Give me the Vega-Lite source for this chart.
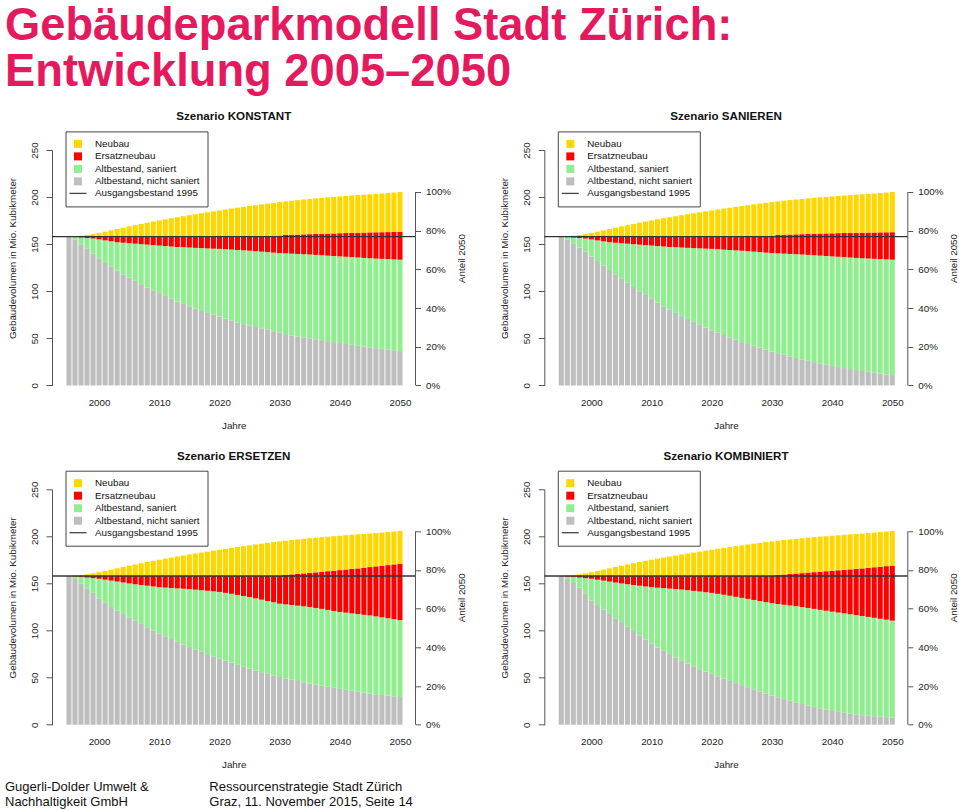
{
  "$schema": "https://vega.github.io/schema/vega-lite/v6.json",
  "padding": {"left": 5, "top": 3, "right": 0, "bottom": 0},
  "background": "white",
  "title": {
    "text": ["Gebäudeparkmodell Stadt Zürich:", "Entwicklung 2005–2050"],
    "anchor": "start", "frame": "group", "dx": -47,
    "font": "Liberation Sans", "fontSize": 45.3, "fontWeight": "bold",
    "color": "#E5195E", "lineHeight": 46.7, "offset": 15.5
  },
  "datasets": {
    "konstant": [
      {"j":1995,"a":158,"b":158,"c":158,"t":158},
      {"j":1996,"a":155,"b":157.5,"c":158,"t":158.3},
      {"j":1997,"a":150,"b":157,"c":158,"t":159},
      {"j":1998,"a":145,"b":156.5,"c":158,"t":159.8},
      {"j":1999,"a":140,"b":156,"c":158,"t":160.8},
      {"j":2000,"a":135,"b":155,"c":158,"t":162},
      {"j":2001,"a":130,"b":154,"c":158,"t":163.3},
      {"j":2002,"a":126,"b":153,"c":158,"t":164.7},
      {"j":2003,"a":122,"b":152,"c":158,"t":166.1},
      {"j":2004,"a":118,"b":151.5,"c":158,"t":167.5},
      {"j":2005,"a":114.5,"b":151,"c":158,"t":168.9},
      {"j":2006,"a":111,"b":150.5,"c":158,"t":170.2},
      {"j":2007,"a":107.5,"b":150,"c":158,"t":171.5},
      {"j":2008,"a":104,"b":149.5,"c":158,"t":172.8},
      {"j":2009,"a":101,"b":149,"c":158,"t":174},
      {"j":2010,"a":98,"b":148.5,"c":158,"t":175.2},
      {"j":2011,"a":95,"b":148,"c":158,"t":176.4},
      {"j":2012,"a":92,"b":147.5,"c":158,"t":177.5},
      {"j":2013,"a":89,"b":147,"c":158,"t":178.6},
      {"j":2014,"a":86.5,"b":146.7,"c":158,"t":179.7},
      {"j":2015,"a":84,"b":146.4,"c":158,"t":180.8},
      {"j":2016,"a":81.5,"b":146.1,"c":158,"t":181.8},
      {"j":2017,"a":79,"b":145.8,"c":158,"t":182.8},
      {"j":2018,"a":77,"b":145.5,"c":158,"t":183.8},
      {"j":2019,"a":75,"b":145.2,"c":158,"t":184.8},
      {"j":2020,"a":73,"b":145,"c":158,"t":185.8},
      {"j":2021,"a":71,"b":144.6,"c":158,"t":186.8},
      {"j":2022,"a":69,"b":144.2,"c":158,"t":187.8},
      {"j":2023,"a":67,"b":143.8,"c":158,"t":188.7},
      {"j":2024,"a":65,"b":143.4,"c":158,"t":189.6},
      {"j":2025,"a":63.5,"b":143,"c":158,"t":190.5},
      {"j":2026,"a":62,"b":142.5,"c":158,"t":191.4},
      {"j":2027,"a":60.5,"b":142,"c":158,"t":192.3},
      {"j":2028,"a":59,"b":141.5,"c":158,"t":193.1},
      {"j":2029,"a":57.5,"b":141,"c":158,"t":193.9},
      {"j":2030,"a":56,"b":140.5,"c":158,"t":194.7},
      {"j":2031,"a":54.5,"b":140.2,"c":160,"t":195.4},
      {"j":2032,"a":53,"b":139.9,"c":160.1,"t":196.1},
      {"j":2033,"a":52,"b":139.6,"c":160.2,"t":196.8},
      {"j":2034,"a":51,"b":139.3,"c":160.4,"t":197.4},
      {"j":2035,"a":50,"b":139,"c":160.6,"t":198},
      {"j":2036,"a":49,"b":138.6,"c":160.8,"t":198.6},
      {"j":2037,"a":48,"b":138.2,"c":161,"t":199.2},
      {"j":2038,"a":47,"b":137.8,"c":161.2,"t":199.7},
      {"j":2039,"a":46,"b":137.4,"c":161.4,"t":200.2},
      {"j":2040,"a":45,"b":137,"c":161.6,"t":200.7},
      {"j":2041,"a":44,"b":136.6,"c":161.8,"t":201.2},
      {"j":2042,"a":43,"b":136.2,"c":162,"t":201.7},
      {"j":2043,"a":42,"b":135.8,"c":162.2,"t":202.2},
      {"j":2044,"a":41,"b":135.4,"c":162.3,"t":202.6},
      {"j":2045,"a":40.3,"b":135,"c":162.5,"t":203},
      {"j":2046,"a":39.5,"b":134.7,"c":162.6,"t":203.4},
      {"j":2047,"a":38.8,"b":134.4,"c":162.7,"t":203.8},
      {"j":2048,"a":38,"b":134.1,"c":162.8,"t":204.3},
      {"j":2049,"a":37.3,"b":133.8,"c":162.9,"t":204.8},
      {"j":2050,"a":36.5,"b":133.5,"c":163,"t":205.4}
    ],
    "sanieren": [
      {"j":1995,"a":158,"b":158,"c":158,"t":158},
      {"j":1996,"a":155,"b":157.5,"c":158,"t":158.3},
      {"j":1997,"a":151,"b":157,"c":158,"t":159},
      {"j":1998,"a":146.5,"b":156.5,"c":158,"t":159.8},
      {"j":1999,"a":142,"b":156,"c":158,"t":160.8},
      {"j":2000,"a":137,"b":155,"c":158,"t":162},
      {"j":2001,"a":132,"b":154,"c":158,"t":163.3},
      {"j":2002,"a":127,"b":153,"c":158,"t":164.7},
      {"j":2003,"a":122.5,"b":152,"c":158,"t":166.1},
      {"j":2004,"a":118,"b":151.5,"c":158,"t":167.5},
      {"j":2005,"a":113.5,"b":151,"c":158,"t":168.9},
      {"j":2006,"a":109,"b":150.5,"c":158,"t":170.2},
      {"j":2007,"a":104.5,"b":150,"c":158,"t":171.5},
      {"j":2008,"a":100,"b":149.5,"c":158,"t":172.8},
      {"j":2009,"a":96,"b":149,"c":158,"t":174},
      {"j":2010,"a":92,"b":148.5,"c":158,"t":175.2},
      {"j":2011,"a":88,"b":148,"c":158,"t":176.4},
      {"j":2012,"a":84,"b":147.5,"c":158,"t":177.5},
      {"j":2013,"a":80.5,"b":147,"c":158,"t":178.6},
      {"j":2014,"a":77,"b":146.7,"c":158,"t":179.7},
      {"j":2015,"a":73.5,"b":146.4,"c":158,"t":180.8},
      {"j":2016,"a":70.5,"b":146.1,"c":158,"t":181.8},
      {"j":2017,"a":67.5,"b":145.8,"c":158,"t":182.8},
      {"j":2018,"a":64.5,"b":145.5,"c":158,"t":183.8},
      {"j":2019,"a":61.5,"b":145.2,"c":158,"t":184.8},
      {"j":2020,"a":58.5,"b":145,"c":158,"t":185.8},
      {"j":2021,"a":56,"b":144.6,"c":158,"t":186.8},
      {"j":2022,"a":53.5,"b":144.2,"c":158,"t":187.8},
      {"j":2023,"a":51,"b":143.8,"c":158,"t":188.7},
      {"j":2024,"a":48.5,"b":143.4,"c":158,"t":189.6},
      {"j":2025,"a":46,"b":143,"c":158,"t":190.5},
      {"j":2026,"a":44,"b":142.5,"c":158,"t":191.4},
      {"j":2027,"a":42,"b":142,"c":158,"t":192.3},
      {"j":2028,"a":40,"b":141.5,"c":158,"t":193.1},
      {"j":2029,"a":38,"b":141,"c":158,"t":193.9},
      {"j":2030,"a":36,"b":140.5,"c":158,"t":194.7},
      {"j":2031,"a":34.2,"b":140.2,"c":159.8,"t":195.4},
      {"j":2032,"a":32.5,"b":139.9,"c":160,"t":196.1},
      {"j":2033,"a":30.8,"b":139.6,"c":160.2,"t":196.8},
      {"j":2034,"a":29.2,"b":139.3,"c":160.4,"t":197.4},
      {"j":2035,"a":27.6,"b":139,"c":160.6,"t":198},
      {"j":2036,"a":26.1,"b":138.6,"c":160.8,"t":198.6},
      {"j":2037,"a":24.7,"b":138.2,"c":161,"t":199.2},
      {"j":2038,"a":23.3,"b":137.8,"c":161.2,"t":199.7},
      {"j":2039,"a":22,"b":137.4,"c":161.4,"t":200.2},
      {"j":2040,"a":20.7,"b":137,"c":161.5,"t":200.7},
      {"j":2041,"a":19.5,"b":136.6,"c":161.7,"t":201.2},
      {"j":2042,"a":18.4,"b":136.2,"c":161.9,"t":201.7},
      {"j":2043,"a":17.3,"b":135.8,"c":162,"t":202.2},
      {"j":2044,"a":16.3,"b":135.4,"c":162.1,"t":202.6},
      {"j":2045,"a":15.3,"b":135,"c":162.2,"t":203},
      {"j":2046,"a":14.4,"b":134.7,"c":162.3,"t":203.4},
      {"j":2047,"a":13.5,"b":134.4,"c":162.4,"t":203.8},
      {"j":2048,"a":12.6,"b":134.1,"c":162.5,"t":204.3},
      {"j":2049,"a":11.8,"b":133.8,"c":162.6,"t":204.8},
      {"j":2050,"a":11,"b":133.5,"c":162.7,"t":205.4}
    ],
    "ersetzen": [
      {"j":1995,"a":158,"b":158,"c":158,"t":158},
      {"j":1996,"a":155,"b":157.5,"c":158,"t":158.3},
      {"j":1997,"a":150,"b":157,"c":158,"t":159},
      {"j":1998,"a":145,"b":156.3,"c":158,"t":159.8},
      {"j":1999,"a":140,"b":155.6,"c":158,"t":160.8},
      {"j":2000,"a":134,"b":155,"c":158,"t":162},
      {"j":2001,"a":129.5,"b":154,"c":158,"t":163.3},
      {"j":2002,"a":125,"b":153,"c":158,"t":164.7},
      {"j":2003,"a":121,"b":152,"c":158,"t":166.1},
      {"j":2004,"a":117.5,"b":151,"c":158,"t":167.5},
      {"j":2005,"a":114,"b":150,"c":158,"t":168.9},
      {"j":2006,"a":110.5,"b":149.2,"c":158,"t":170.2},
      {"j":2007,"a":107,"b":148.4,"c":158,"t":171.5},
      {"j":2008,"a":103.5,"b":147.6,"c":158,"t":172.8},
      {"j":2009,"a":100,"b":146.8,"c":158,"t":174},
      {"j":2010,"a":97,"b":146,"c":158,"t":175.2},
      {"j":2011,"a":94,"b":145.6,"c":158,"t":176.4},
      {"j":2012,"a":91,"b":145.2,"c":158,"t":177.5},
      {"j":2013,"a":88,"b":144.8,"c":158,"t":178.6},
      {"j":2014,"a":85,"b":144.4,"c":158,"t":179.7},
      {"j":2015,"a":82.5,"b":144,"c":158,"t":180.8},
      {"j":2016,"a":80,"b":143.4,"c":158,"t":181.8},
      {"j":2017,"a":77.5,"b":142.8,"c":158,"t":182.8},
      {"j":2018,"a":75,"b":142.2,"c":158,"t":183.8},
      {"j":2019,"a":72.5,"b":141.6,"c":158,"t":184.8},
      {"j":2020,"a":70,"b":141,"c":158,"t":185.8},
      {"j":2021,"a":68,"b":140,"c":158,"t":186.8},
      {"j":2022,"a":66,"b":139,"c":158,"t":187.8},
      {"j":2023,"a":63.5,"b":137.8,"c":158,"t":188.7},
      {"j":2024,"a":61.5,"b":136.7,"c":158,"t":189.6},
      {"j":2025,"a":59.5,"b":135.6,"c":158,"t":190.5},
      {"j":2026,"a":57.5,"b":134.2,"c":158,"t":191.4},
      {"j":2027,"a":55.8,"b":132.8,"c":158,"t":192.3},
      {"j":2028,"a":54,"b":131.4,"c":158,"t":193.1},
      {"j":2029,"a":52.3,"b":130,"c":158,"t":193.9},
      {"j":2030,"a":50.6,"b":128.5,"c":158,"t":194.7},
      {"j":2031,"a":49.2,"b":127.8,"c":159,"t":195.4},
      {"j":2032,"a":47.8,"b":127.1,"c":159.6,"t":196.1},
      {"j":2033,"a":46.4,"b":126.4,"c":160.2,"t":196.8},
      {"j":2034,"a":45,"b":125.7,"c":160.7,"t":197.4},
      {"j":2035,"a":43.6,"b":125,"c":161.2,"t":198},
      {"j":2036,"a":42.5,"b":124,"c":161.8,"t":198.6},
      {"j":2037,"a":41.4,"b":123,"c":162.4,"t":199.2},
      {"j":2038,"a":40.2,"b":121.9,"c":163,"t":199.7},
      {"j":2039,"a":39.1,"b":120.8,"c":163.6,"t":200.2},
      {"j":2040,"a":38,"b":119.7,"c":164.2,"t":200.7},
      {"j":2041,"a":37,"b":119,"c":164.8,"t":201.2},
      {"j":2042,"a":36,"b":118.2,"c":165.4,"t":201.7},
      {"j":2043,"a":35,"b":117.5,"c":166,"t":202.2},
      {"j":2044,"a":34,"b":116.7,"c":166.7,"t":202.6},
      {"j":2045,"a":33,"b":116,"c":167.4,"t":203},
      {"j":2046,"a":32.3,"b":115,"c":168.1,"t":203.5},
      {"j":2047,"a":31.5,"b":114,"c":168.8,"t":204},
      {"j":2048,"a":30.8,"b":113,"c":169.5,"t":204.6},
      {"j":2049,"a":30.1,"b":112,"c":170.2,"t":205.2},
      {"j":2050,"a":29.4,"b":111,"c":171,"t":205.8}
    ],
    "kombiniert": [
      {"j":1995,"a":158,"b":158,"c":158,"t":158},
      {"j":1996,"a":155,"b":157.5,"c":158,"t":158.3},
      {"j":1997,"a":150.5,"b":157,"c":158,"t":159},
      {"j":1998,"a":145.5,"b":156.3,"c":158,"t":159.8},
      {"j":1999,"a":139,"b":155.6,"c":158,"t":160.8},
      {"j":2000,"a":132,"b":155,"c":158,"t":162},
      {"j":2001,"a":127,"b":154,"c":158,"t":163.3},
      {"j":2002,"a":122,"b":153,"c":158,"t":164.7},
      {"j":2003,"a":117.5,"b":152,"c":158,"t":166.1},
      {"j":2004,"a":113,"b":151,"c":158,"t":167.5},
      {"j":2005,"a":109,"b":150,"c":158,"t":168.9},
      {"j":2006,"a":104,"b":149.2,"c":158,"t":170.2},
      {"j":2007,"a":99.5,"b":148.4,"c":158,"t":171.5},
      {"j":2008,"a":95,"b":147.6,"c":158,"t":172.8},
      {"j":2009,"a":90.5,"b":146.8,"c":158,"t":174},
      {"j":2010,"a":86,"b":146,"c":158,"t":175.2},
      {"j":2011,"a":82,"b":145.5,"c":158,"t":176.4},
      {"j":2012,"a":78.5,"b":145,"c":158,"t":177.5},
      {"j":2013,"a":75,"b":144.5,"c":158,"t":178.6},
      {"j":2014,"a":71.5,"b":144,"c":158,"t":179.7},
      {"j":2015,"a":68,"b":143.5,"c":158,"t":180.8},
      {"j":2016,"a":65,"b":142.8,"c":158,"t":181.8},
      {"j":2017,"a":62,"b":142.1,"c":158,"t":182.8},
      {"j":2018,"a":59,"b":141.4,"c":158,"t":183.8},
      {"j":2019,"a":56.5,"b":140.7,"c":158,"t":184.8},
      {"j":2020,"a":54,"b":140,"c":158,"t":185.8},
      {"j":2021,"a":51.5,"b":139,"c":158,"t":186.8},
      {"j":2022,"a":49,"b":138,"c":158,"t":187.8},
      {"j":2023,"a":46.5,"b":136.9,"c":158,"t":188.7},
      {"j":2024,"a":44.2,"b":135.8,"c":158,"t":189.6},
      {"j":2025,"a":42,"b":134.7,"c":158,"t":190.5},
      {"j":2026,"a":39.8,"b":133.6,"c":158,"t":191.4},
      {"j":2027,"a":37.6,"b":132.5,"c":158,"t":192.3},
      {"j":2028,"a":35.4,"b":131.4,"c":158,"t":193.1},
      {"j":2029,"a":33.2,"b":130.2,"c":158,"t":193.9},
      {"j":2030,"a":31,"b":129,"c":158,"t":194.7},
      {"j":2031,"a":29.1,"b":128.2,"c":159,"t":195.4},
      {"j":2032,"a":27.2,"b":127.4,"c":159.5,"t":196.1},
      {"j":2033,"a":25.4,"b":126.6,"c":160,"t":196.8},
      {"j":2034,"a":23.7,"b":125.8,"c":160.5,"t":197.4},
      {"j":2035,"a":22,"b":125,"c":161,"t":198},
      {"j":2036,"a":20.4,"b":124,"c":161.5,"t":198.6},
      {"j":2037,"a":18.9,"b":123,"c":162,"t":199.2},
      {"j":2038,"a":17.4,"b":122,"c":162.5,"t":199.7},
      {"j":2039,"a":16,"b":121,"c":163,"t":200.2},
      {"j":2040,"a":14.6,"b":120,"c":163.5,"t":200.7},
      {"j":2041,"a":13.6,"b":119.1,"c":164,"t":201.2},
      {"j":2042,"a":12.7,"b":118.2,"c":164.5,"t":201.7},
      {"j":2043,"a":11.8,"b":117.3,"c":165,"t":202.2},
      {"j":2044,"a":10.9,"b":116.4,"c":165.5,"t":202.6},
      {"j":2045,"a":10.1,"b":115.5,"c":166,"t":203},
      {"j":2046,"a":9.5,"b":114.5,"c":166.6,"t":203.5},
      {"j":2047,"a":9,"b":113.5,"c":167.2,"t":204},
      {"j":2048,"a":8.5,"b":112.5,"c":167.8,"t":204.6},
      {"j":2049,"a":8,"b":111.5,"c":168.4,"t":205.2},
      {"j":2050,"a":7.5,"b":110.5,"c":169,"t":205.8}
    ]
  },
  "concat": [
    {
      "data": {"name": "konstant"},
      "title": "Szenario KONSTANT",
      "width": 363.5, "height": 235.4,
      "layer": [
        {"layer": [
          {"encoding": {"x": {"field": "j", "type": "quantitative", "title": "Jahre", "scale": {"domain": [1992.18, 2052.58], "nice": false, "zero": false, "padding": 0}, "axis": {"values": [2000,2010,2020,2030,2040,2050], "format": "d", "labelAngle": 0}}},
           "layer": [
            {"mark": {"type": "bar", "size": 5.1}, "encoding": {"y": {"field": "a", "type": "quantitative", "title": "Gebäudevolumen in Mio. Kubikmeter", "scale": {"domain": [0,250], "nice": false}, "axis": {"values": [0,50,100,150,200,250]}}, "color": {"datum": "Altbestand, nicht saniert", "scale": {"domain": ["Neubau","Ersatzneubau","Altbestand, saniert","Altbestand, nicht saniert","Ausgangsbestand 1995"], "range": ["#FFD700","#FF0000","#90EE90","#BEBEBE","#444444"]}, "legend": {"title": null, "encode": {"symbols": {"update": {"shape": {"signal": "datum.value === 'Ausgangsbestand 1995' ? 'stroke' : 'square'"}, "size": {"signal": "datum.value === 'Ausgangsbestand 1995' ? 289 : 64"}, "stroke": {"signal": "datum.value === 'Ausgangsbestand 1995' ? '#444444' : 'transparent'"}, "strokeWidth": {"value": 1.3}}}}}}}},
            {"mark": {"type": "bar", "size": 5.1}, "encoding": {"y": {"field": "b", "type": "quantitative", "title": "Gebäudevolumen in Mio. Kubikmeter", "scale": {"domain": [0,250], "nice": false}}, "y2": {"field": "a"}, "color": {"datum": "Altbestand, saniert"}}},
            {"mark": {"type": "bar", "size": 5.1}, "encoding": {"y": {"field": "c", "type": "quantitative", "title": "Gebäudevolumen in Mio. Kubikmeter", "scale": {"domain": [0,250], "nice": false}}, "y2": {"field": "b"}, "color": {"datum": "Ersatzneubau"}}},
            {"mark": {"type": "bar", "size": 5.1}, "encoding": {"y": {"field": "t", "type": "quantitative", "title": "Gebäudevolumen in Mio. Kubikmeter", "scale": {"domain": [0,250], "nice": false}}, "y2": {"field": "c"}, "color": {"datum": "Neubau"}}}
           ]},
          {"data": {"values": [{"w": 158}]}, "mark": {"type": "rule", "color": "#333333", "strokeWidth": 1.4}, "encoding": {"y": {"field": "w", "type": "quantitative", "title": "Gebäudevolumen in Mio. Kubikmeter", "scale": {"domain": [0,250], "nice": false}}}}
        ]},
        {"data": {"values": [{"von": 0, "bis": 100}]}, "mark": {"type": "rule", "color": "#555555"}, "encoding": {"x": {"value": "width"}, "y": {"field": "von", "type": "quantitative", "scale": {"domain": [0, 121.7], "nice": false}, "axis": {"orient": "right", "values": [0,20,40,60,80,100], "labelExpr": "datum.value + '%'", "title": "Anteil 2050", "domain": false}}, "y2": {"field": "bis"}}}
      ],
      "resolve": {"scale": {"y": "independent"}}
    },
    {
      "data": {"name": "sanieren"},
      "title": "Szenario SANIEREN",
      "width": 363.5, "height": 235.4,
      "layer": [
        {"layer": [
          {"encoding": {"x": {"field": "j", "type": "quantitative", "title": "Jahre", "scale": {"domain": [1992.18, 2052.58], "nice": false, "zero": false, "padding": 0}, "axis": {"values": [2000,2010,2020,2030,2040,2050], "format": "d", "labelAngle": 0}}},
           "layer": [
            {"mark": {"type": "bar", "size": 5.1}, "encoding": {"y": {"field": "a", "type": "quantitative", "title": "Gebäudevolumen in Mio. Kubikmeter", "scale": {"domain": [0,250], "nice": false}, "axis": {"values": [0,50,100,150,200,250]}}, "color": {"datum": "Altbestand, nicht saniert", "scale": {"domain": ["Neubau","Ersatzneubau","Altbestand, saniert","Altbestand, nicht saniert","Ausgangsbestand 1995"], "range": ["#FFD700","#FF0000","#90EE90","#BEBEBE","#444444"]}, "legend": {"title": null, "encode": {"symbols": {"update": {"shape": {"signal": "datum.value === 'Ausgangsbestand 1995' ? 'stroke' : 'square'"}, "size": {"signal": "datum.value === 'Ausgangsbestand 1995' ? 289 : 64"}, "stroke": {"signal": "datum.value === 'Ausgangsbestand 1995' ? '#444444' : 'transparent'"}, "strokeWidth": {"value": 1.3}}}}}}}},
            {"mark": {"type": "bar", "size": 5.1}, "encoding": {"y": {"field": "b", "type": "quantitative", "title": "Gebäudevolumen in Mio. Kubikmeter", "scale": {"domain": [0,250], "nice": false}}, "y2": {"field": "a"}, "color": {"datum": "Altbestand, saniert"}}},
            {"mark": {"type": "bar", "size": 5.1}, "encoding": {"y": {"field": "c", "type": "quantitative", "title": "Gebäudevolumen in Mio. Kubikmeter", "scale": {"domain": [0,250], "nice": false}}, "y2": {"field": "b"}, "color": {"datum": "Ersatzneubau"}}},
            {"mark": {"type": "bar", "size": 5.1}, "encoding": {"y": {"field": "t", "type": "quantitative", "title": "Gebäudevolumen in Mio. Kubikmeter", "scale": {"domain": [0,250], "nice": false}}, "y2": {"field": "c"}, "color": {"datum": "Neubau"}}}
           ]},
          {"data": {"values": [{"w": 158}]}, "mark": {"type": "rule", "color": "#333333", "strokeWidth": 1.4}, "encoding": {"y": {"field": "w", "type": "quantitative", "title": "Gebäudevolumen in Mio. Kubikmeter", "scale": {"domain": [0,250], "nice": false}}}}
        ]},
        {"data": {"values": [{"von": 0, "bis": 100}]}, "mark": {"type": "rule", "color": "#555555"}, "encoding": {"x": {"value": "width"}, "y": {"field": "von", "type": "quantitative", "scale": {"domain": [0, 121.7], "nice": false}, "axis": {"orient": "right", "values": [0,20,40,60,80,100], "labelExpr": "datum.value + '%'", "title": "Anteil 2050", "domain": false}}, "y2": {"field": "bis"}}}
      ],
      "resolve": {"scale": {"y": "independent"}}
    },
    {
      "data": {"name": "ersetzen"},
      "title": "Szenario ERSETZEN",
      "width": 363.5, "height": 235.4,
      "layer": [
        {"layer": [
          {"encoding": {"x": {"field": "j", "type": "quantitative", "title": "Jahre", "scale": {"domain": [1992.18, 2052.58], "nice": false, "zero": false, "padding": 0}, "axis": {"values": [2000,2010,2020,2030,2040,2050], "format": "d", "labelAngle": 0}}},
           "layer": [
            {"mark": {"type": "bar", "size": 5.1}, "encoding": {"y": {"field": "a", "type": "quantitative", "title": "Gebäudevolumen in Mio. Kubikmeter", "scale": {"domain": [0,250], "nice": false}, "axis": {"values": [0,50,100,150,200,250]}}, "color": {"datum": "Altbestand, nicht saniert", "scale": {"domain": ["Neubau","Ersatzneubau","Altbestand, saniert","Altbestand, nicht saniert","Ausgangsbestand 1995"], "range": ["#FFD700","#FF0000","#90EE90","#BEBEBE","#444444"]}, "legend": {"title": null, "encode": {"symbols": {"update": {"shape": {"signal": "datum.value === 'Ausgangsbestand 1995' ? 'stroke' : 'square'"}, "size": {"signal": "datum.value === 'Ausgangsbestand 1995' ? 289 : 64"}, "stroke": {"signal": "datum.value === 'Ausgangsbestand 1995' ? '#444444' : 'transparent'"}, "strokeWidth": {"value": 1.3}}}}}}}},
            {"mark": {"type": "bar", "size": 5.1}, "encoding": {"y": {"field": "b", "type": "quantitative", "title": "Gebäudevolumen in Mio. Kubikmeter", "scale": {"domain": [0,250], "nice": false}}, "y2": {"field": "a"}, "color": {"datum": "Altbestand, saniert"}}},
            {"mark": {"type": "bar", "size": 5.1}, "encoding": {"y": {"field": "c", "type": "quantitative", "title": "Gebäudevolumen in Mio. Kubikmeter", "scale": {"domain": [0,250], "nice": false}}, "y2": {"field": "b"}, "color": {"datum": "Ersatzneubau"}}},
            {"mark": {"type": "bar", "size": 5.1}, "encoding": {"y": {"field": "t", "type": "quantitative", "title": "Gebäudevolumen in Mio. Kubikmeter", "scale": {"domain": [0,250], "nice": false}}, "y2": {"field": "c"}, "color": {"datum": "Neubau"}}}
           ]},
          {"data": {"values": [{"w": 158}]}, "mark": {"type": "rule", "color": "#333333", "strokeWidth": 1.4}, "encoding": {"y": {"field": "w", "type": "quantitative", "title": "Gebäudevolumen in Mio. Kubikmeter", "scale": {"domain": [0,250], "nice": false}}}}
        ]},
        {"data": {"values": [{"von": 0, "bis": 100}]}, "mark": {"type": "rule", "color": "#555555"}, "encoding": {"x": {"value": "width"}, "y": {"field": "von", "type": "quantitative", "scale": {"domain": [0, 121.7], "nice": false}, "axis": {"orient": "right", "values": [0,20,40,60,80,100], "labelExpr": "datum.value + '%'", "title": "Anteil 2050", "domain": false}}, "y2": {"field": "bis"}}},
        {"data": {"values": [
          {"spalte": "l", "zeile": "1", "text": "Gugerli-Dolder Umwelt &"},
          {"spalte": "l", "zeile": "2", "text": "Nachhaltigkeit GmbH"},
          {"spalte": "r", "zeile": "1", "text": "Ressourcenstrategie Stadt Zürich"},
          {"spalte": "r", "zeile": "2", "text": "Graz, 11. November 2015, Seite 14"}
         ]},
         "mark": {"type": "text", "align": "left", "baseline": "alphabetic", "font": "Liberation Sans", "fontSize": 13, "color": "#111111"},
         "encoding": {
           "x": {"field": "spalte", "type": "nominal", "scale": {"type": "point", "domain": ["l","r"], "range": [-47, 157.3], "padding": 0}, "axis": null},
           "y": {"field": "zeile", "type": "nominal", "scale": {"type": "point", "domain": ["1","2"], "range": [301.7, 317], "padding": 0}, "axis": null},
           "text": {"field": "text"}
         }}
      ],
      "resolve": {"scale": {"y": "independent", "x": "independent"}}
    },
    {
      "data": {"name": "kombiniert"},
      "title": "Szenario KOMBINIERT",
      "width": 363.5, "height": 235.4,
      "layer": [
        {"layer": [
          {"encoding": {"x": {"field": "j", "type": "quantitative", "title": "Jahre", "scale": {"domain": [1992.18, 2052.58], "nice": false, "zero": false, "padding": 0}, "axis": {"values": [2000,2010,2020,2030,2040,2050], "format": "d", "labelAngle": 0}}},
           "layer": [
            {"mark": {"type": "bar", "size": 5.1}, "encoding": {"y": {"field": "a", "type": "quantitative", "title": "Gebäudevolumen in Mio. Kubikmeter", "scale": {"domain": [0,250], "nice": false}, "axis": {"values": [0,50,100,150,200,250]}}, "color": {"datum": "Altbestand, nicht saniert", "scale": {"domain": ["Neubau","Ersatzneubau","Altbestand, saniert","Altbestand, nicht saniert","Ausgangsbestand 1995"], "range": ["#FFD700","#FF0000","#90EE90","#BEBEBE","#444444"]}, "legend": {"title": null, "encode": {"symbols": {"update": {"shape": {"signal": "datum.value === 'Ausgangsbestand 1995' ? 'stroke' : 'square'"}, "size": {"signal": "datum.value === 'Ausgangsbestand 1995' ? 289 : 64"}, "stroke": {"signal": "datum.value === 'Ausgangsbestand 1995' ? '#444444' : 'transparent'"}, "strokeWidth": {"value": 1.3}}}}}}}},
            {"mark": {"type": "bar", "size": 5.1}, "encoding": {"y": {"field": "b", "type": "quantitative", "title": "Gebäudevolumen in Mio. Kubikmeter", "scale": {"domain": [0,250], "nice": false}}, "y2": {"field": "a"}, "color": {"datum": "Altbestand, saniert"}}},
            {"mark": {"type": "bar", "size": 5.1}, "encoding": {"y": {"field": "c", "type": "quantitative", "title": "Gebäudevolumen in Mio. Kubikmeter", "scale": {"domain": [0,250], "nice": false}}, "y2": {"field": "b"}, "color": {"datum": "Ersatzneubau"}}},
            {"mark": {"type": "bar", "size": 5.1}, "encoding": {"y": {"field": "t", "type": "quantitative", "title": "Gebäudevolumen in Mio. Kubikmeter", "scale": {"domain": [0,250], "nice": false}}, "y2": {"field": "c"}, "color": {"datum": "Neubau"}}}
           ]},
          {"data": {"values": [{"w": 158}]}, "mark": {"type": "rule", "color": "#333333", "strokeWidth": 1.4}, "encoding": {"y": {"field": "w", "type": "quantitative", "title": "Gebäudevolumen in Mio. Kubikmeter", "scale": {"domain": [0,250], "nice": false}}}}
        ]},
        {"data": {"values": [{"von": 0, "bis": 100}]}, "mark": {"type": "rule", "color": "#555555"}, "encoding": {"x": {"value": "width"}, "y": {"field": "von", "type": "quantitative", "scale": {"domain": [0, 121.7], "nice": false}, "axis": {"orient": "right", "values": [0,20,40,60,80,100], "labelExpr": "datum.value + '%'", "title": "Anteil 2050", "domain": false}}, "y2": {"field": "bis"}}}
      ],
      "resolve": {"scale": {"y": "independent"}}
    }
  ],
  "columns": 2,
  "spacing": {"row": 103.3, "column": 128.3},
  "bounds": "flush",
  "resolve": {"scale": {"color": "independent"}, "legend": {"color": "independent"}},
  "config": {
    "view": {"stroke": null},
    "font": "Liberation Sans",
    "title": {"font": "Liberation Sans", "fontSize": 11.6, "fontWeight": "bold", "color": "#111111", "offset": 8},
    "axis": {"grid": false, "labelFont": "Liberation Sans", "titleFont": "Liberation Sans", "labelFontSize": 9.8, "titleFontSize": 9.8, "titleFontWeight": "normal", "labelColor": "#222222", "titleColor": "#222222", "domainColor": "#555555", "tickColor": "#555555"},
    "axisLeft": {"labelAngle": -90, "labelAlign": "center", "labelBaseline": "bottom", "tickSize": 6, "labelPadding": 7, "titlePadding": 12, "titleY": 108},
    "axisRight": {"tickSize": 5, "labelPadding": 5, "titleAngle": 270, "titlePadding": 16, "titleY": 108},
    "axisBottom": {"domain": false, "ticks": false, "labelPadding": 12, "titlePadding": 13},
    "legend": {"orient": "none", "legendX": 13.5, "legendY": -18.6, "strokeColor": "#444444", "strokeWidth": 1, "fillColor": "#ffffff", "padding": 7.5, "labelFont": "Liberation Sans", "labelFontSize": 9.8, "labelColor": "#111111", "labelOffset": 12, "symbolSize": 100, "rowPadding": -1.5, "symbolStrokeWidth": 0}
  }
}
